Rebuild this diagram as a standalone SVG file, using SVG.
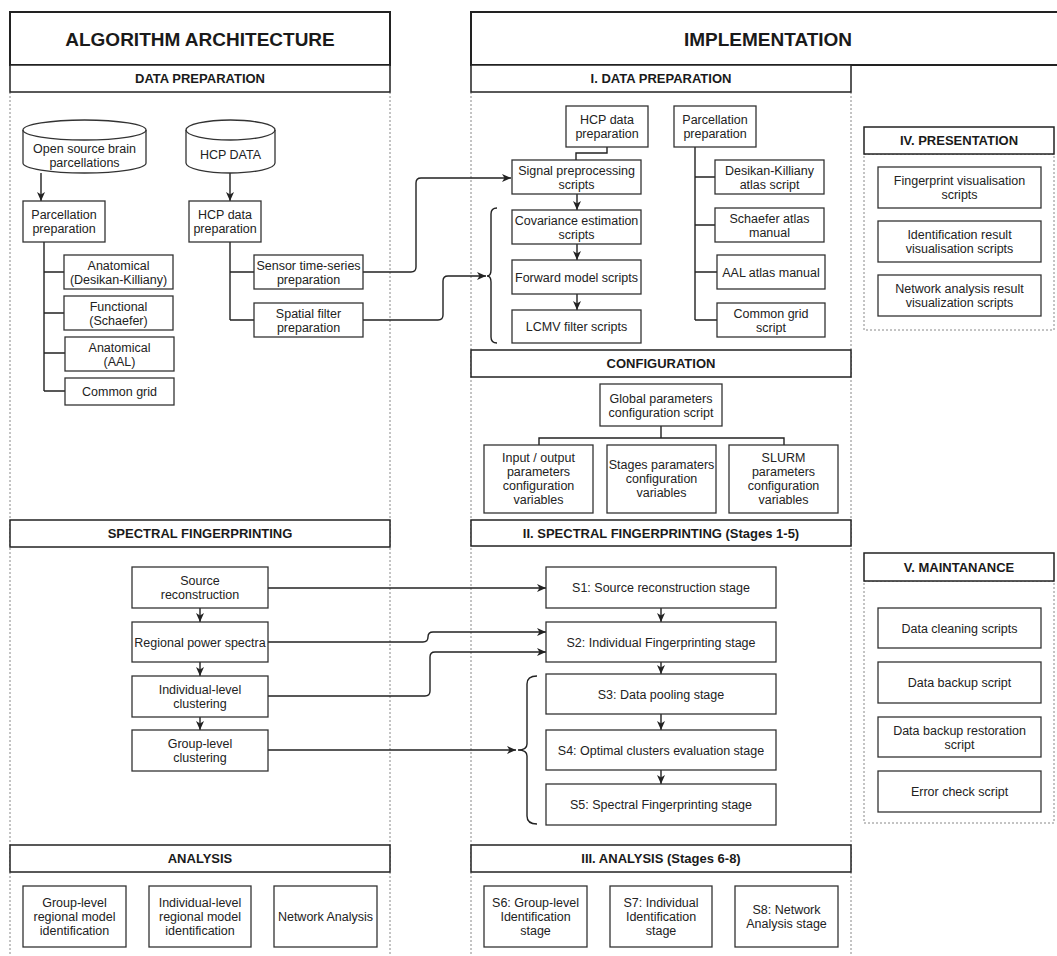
<svg xmlns="http://www.w3.org/2000/svg" width="1057" height="956" viewBox="0 0 1057 956">
<style>
.box{fill:#fff;stroke:#333;stroke-width:1.3}
.hdr{fill:#fff;stroke:#222;stroke-width:2}
.sub{fill:#fff;stroke:#222;stroke-width:1.5}
.dot{fill:none;stroke:#888;stroke-width:1;stroke-dasharray:2 2}
.t{font-family:"Liberation Sans",Arial,sans-serif;font-size:12.5px;fill:#222;text-anchor:middle}
.h1{font-family:"Liberation Sans",Arial,sans-serif;font-size:19px;font-weight:bold;fill:#1a1a1a;text-anchor:middle}
.h2{font-family:"Liberation Sans",Arial,sans-serif;font-size:13px;font-weight:bold;fill:#1a1a1a;text-anchor:middle}
.c{fill:none;stroke:#222;stroke-width:1.4}
.ca{fill:none;stroke:#222;stroke-width:1.4;marker-end:url(#arr)}
</style>
<defs>
<marker id="arr" markerUnits="userSpaceOnUse" markerWidth="10" markerHeight="9" refX="9" refY="4" orient="auto">
<path d="M0,0 L9,4 L0,8 L2.5,4 Z" fill="#222"/>
</marker>
</defs>
<rect width="1057" height="956" fill="#fff"/>

<!-- dotted column frames -->
<g id="frames">
<line class="dot" x1="10" y1="92" x2="10" y2="956"/>
<line class="dot" x1="390" y1="92" x2="390" y2="956"/>
<line class="dot" x1="471" y1="92" x2="471" y2="956"/>
<line class="dot" x1="851" y1="92" x2="851" y2="956"/>
<rect class="dot" x="864" y="154" width="190" height="176"/>
<rect class="dot" x="864" y="581" width="190" height="242"/>
</g>

<!-- headers -->
<g id="hdr-algorithm"><rect class="hdr" x="10" y="12" width="380" height="53"/><text class="h1" x="200" y="45.5">ALGORITHM ARCHITECTURE</text></g>
<g id="hdr-implementation"><rect class="hdr" x="471" y="12" width="600" height="53"/><text class="h1" x="768" y="45.5">IMPLEMENTATION</text></g>
<g id="hdr-dataprep"><rect class="sub" x="10" y="65" width="380" height="27"/><text class="h2" x="200" y="83.2">DATA PREPARATION</text></g>
<g id="hdr-i-dataprep"><rect class="sub" x="471" y="65" width="380" height="27"/><text class="h2" x="661" y="83.2">I. DATA PREPARATION</text></g>
<g id="hdr-presentation"><rect class="sub" x="864" y="127" width="190" height="27"/><text class="h2" x="959" y="145.2">IV. PRESENTATION</text></g>
<g id="hdr-configuration"><rect class="sub" x="471" y="350" width="380" height="27"/><text class="h2" x="661" y="368.2">CONFIGURATION</text></g>
<g id="hdr-sf"><rect class="sub" x="10" y="520" width="380" height="27"/><text class="h2" x="200" y="538.2">SPECTRAL FINGERPRINTING</text></g>
<g id="hdr-ii-sf"><rect class="sub" x="471" y="520" width="380" height="26"/><text class="h2" x="661" y="537.7">II. SPECTRAL FINGERPRINTING (Stages 1-5)</text></g>
<g id="hdr-maintenance"><rect class="sub" x="864" y="553" width="190" height="28"/><text class="h2" x="959" y="571.7">V. MAINTANANCE</text></g>
<g id="hdr-analysis"><rect class="sub" x="10" y="845" width="380" height="27"/><text class="h2" x="200" y="863.2">ANALYSIS</text></g>
<g id="hdr-iii-analysis"><rect class="sub" x="471" y="845" width="380" height="27"/><text class="h2" x="661" y="863.2">III. ANALYSIS (Stages 6-8)</text></g>

<!-- connectors -->
<g id="connectors">
<line class="ca" x1="41" y1="173" x2="41" y2="201"/>
<line class="ca" x1="230" y1="173" x2="230" y2="201"/>
<path class="c" d="M44,242 V391 M44,272 H64 M44,313 H64 M44,353 H65 M44,391 H65"/>
<path class="c" d="M230,242 V320 M230,272 H254 M230,320 H254"/>
<path class="ca" d="M363,272 H411 Q416,272 416,267 V183 Q416,178 421,178 H511"/>
<path class="ca" d="M363,320 H438 Q443,320 443,315 V281 Q443,276 448,276 H486"/>
<path class="c" d="M497,208 Q491,208 491,214 V270 Q491,276 487,276 Q491,276 491,282 V337 Q491,343 497,343"/>
<path class="c" d="M607,147 V153 H576 V160"/>
<line class="ca" x1="577" y1="194" x2="577" y2="210"/>
<line class="ca" x1="577" y1="244" x2="577" y2="260"/>
<line class="ca" x1="577" y1="294" x2="577" y2="310"/>
<path class="c" d="M695,147 V320 M695,177 H715 M695,225 H715 M695,272 H717 M695,320 H717"/>
<path class="c" d="M661,426 V438 M539,445 V438 H784 V445"/>
<line class="ca" x1="200" y1="608" x2="200" y2="622"/>
<line class="ca" x1="200" y1="662" x2="200" y2="676"/>
<line class="ca" x1="200" y1="717" x2="200" y2="730"/>
<line class="ca" x1="268" y1="588" x2="546" y2="588"/>
<path class="ca" d="M268,642 H423 Q428,642 428,637 Q428,632 433,632 H546"/>
<path class="ca" d="M268,696 H425 Q430,696 430,691 V657 Q430,652 435,652 H546"/>
<line class="ca" x1="268" y1="750" x2="516" y2="750"/>
<path class="c" d="M537,676 Q527,676 527,684 V744 Q527,750 518,750 Q527,750 527,756 V816 Q527,824 537,824"/>
<line class="ca" x1="661" y1="608" x2="661" y2="622"/>
<line class="ca" x1="661" y1="662" x2="661" y2="674"/>
<line class="ca" x1="661" y1="714" x2="661" y2="730"/>
<line class="ca" x1="661" y1="770" x2="661" y2="784"/>
</g>

<!-- left data preparation -->
<g id="n-open-source">
<path class="box" d="M23,130 A61.5,10 0 0 1 146,130 V163 A61.5,10 0 0 1 23,163 Z"/>
<path class="box" style="fill:none" d="M23,130 A61.5,10 0 0 0 146,130"/>
<text class="t" x="84.5" y="153">Open source brain<tspan x="84.5" y="167">parcellations</tspan></text>
</g>
<g id="n-hcp-data">
<path class="box" d="M186,130 A44.5,10 0 0 1 275,130 V163 A44.5,10 0 0 1 186,163 Z"/>
<path class="box" style="fill:none" d="M186,130 A44.5,10 0 0 0 275,130"/>
<text class="t" x="230.5" y="159">HCP DATA</text>
</g>
<g id="n-parc-prep"><rect class="box" x="23" y="201" width="82" height="41"/><text class="t" x="64" y="219">Parcellation<tspan x="64" y="233">preparation</tspan></text></g>
<g id="n-hcp-prep"><rect class="box" x="189" y="201" width="72" height="41"/><text class="t" x="225" y="219">HCP data<tspan x="225" y="233">preparation</tspan></text></g>
<g id="n-anat-dk"><rect class="box" x="64" y="255" width="109" height="34"/><text class="t" x="118.5" y="270">Anatomical<tspan x="118.5" y="284">(Desikan-Killiany)</tspan></text></g>
<g id="n-func"><rect class="box" x="64" y="296" width="109" height="34"/><text class="t" x="118.5" y="311">Functional<tspan x="118.5" y="325">(Schaefer)</tspan></text></g>
<g id="n-anat-aal"><rect class="box" x="65" y="337" width="109" height="34"/><text class="t" x="119.5" y="352">Anatomical<tspan x="119.5" y="366">(AAL)</tspan></text></g>
<g id="n-common-grid"><rect class="box" x="65" y="378" width="109" height="27"/><text class="t" x="119.5" y="396">Common grid</text></g>
<g id="n-sensor"><rect class="box" x="254" y="255" width="109" height="34"/><text class="t" x="308.5" y="270">Sensor time-series<tspan x="308.5" y="284">preparation</tspan></text></g>
<g id="n-spatial"><rect class="box" x="254" y="303" width="109" height="34"/><text class="t" x="308.5" y="318">Spatial filter<tspan x="308.5" y="332">preparation</tspan></text></g>

<!-- implementation data preparation -->
<g id="n-i-hcp"><rect class="box" x="566" y="106" width="82" height="41"/><text class="t" x="607" y="124">HCP data<tspan x="607" y="138">preparation</tspan></text></g>
<g id="n-i-parc"><rect class="box" x="674" y="106" width="82" height="41"/><text class="t" x="715" y="124">Parcellation<tspan x="715" y="138">preparation</tspan></text></g>
<g id="n-signal"><rect class="box" x="512" y="160" width="129" height="34"/><text class="t" x="576.5" y="175">Signal preprocessing<tspan x="576.5" y="189">scripts</tspan></text></g>
<g id="n-cov"><rect class="box" x="512" y="210" width="129" height="34"/><text class="t" x="576.5" y="225">Covariance estimation<tspan x="576.5" y="239">scripts</tspan></text></g>
<g id="n-fwd"><rect class="box" x="512" y="260" width="129" height="34"/><text class="t" x="576.5" y="281.5">Forward model scripts</text></g>
<g id="n-lcmv"><rect class="box" x="512" y="310" width="129" height="33"/><text class="t" x="576.5" y="331">LCMV filter scripts</text></g>
<g id="n-dk-script"><rect class="box" x="715" y="160" width="109" height="34"/><text class="t" x="769.5" y="175">Desikan-Killiany<tspan x="769.5" y="189">atlas script</tspan></text></g>
<g id="n-schaefer"><rect class="box" x="715" y="208" width="109" height="34"/><text class="t" x="769.5" y="223">Schaefer atlas<tspan x="769.5" y="237">manual</tspan></text></g>
<g id="n-aal-manual"><rect class="box" x="717" y="255" width="108" height="34"/><text class="t" x="771" y="276.5">AAL atlas manual</text></g>
<g id="n-cg-script"><rect class="box" x="717" y="303" width="108" height="34"/><text class="t" x="771" y="318">Common grid<tspan x="771" y="332">script</tspan></text></g>

<!-- configuration -->
<g id="n-global"><rect class="box" x="600" y="384" width="122" height="42"/><text class="t" x="661" y="402.5">Global parameters<tspan x="661" y="416.5">configuration script</tspan></text></g>
<g id="n-io"><rect class="box" x="484" y="445" width="109" height="68"/><text class="t" x="538.5" y="462">Input / output<tspan x="538.5" y="476">parameters</tspan><tspan x="538.5" y="490">configuration</tspan><tspan x="538.5" y="504">variables</tspan></text></g>
<g id="n-stages"><rect class="box" x="607" y="445" width="109" height="68"/><text class="t" x="661.5" y="469">Stages paramaters<tspan x="661.5" y="483">configuration</tspan><tspan x="661.5" y="497">variables</tspan></text></g>
<g id="n-slurm"><rect class="box" x="729" y="445" width="109" height="68"/><text class="t" x="783.5" y="462">SLURM<tspan x="783.5" y="476">parameters</tspan><tspan x="783.5" y="490">configuration</tspan><tspan x="783.5" y="504">variables</tspan></text></g>

<!-- presentation -->
<g id="n-fp-vis"><rect class="box" x="878" y="167" width="163" height="41"/><text class="t" x="959.5" y="185">Fingerprint visualisation<tspan x="959.5" y="199">scripts</tspan></text></g>
<g id="n-id-vis"><rect class="box" x="878" y="221" width="163" height="41"/><text class="t" x="959.5" y="239">Identification result<tspan x="959.5" y="253">visualisation scripts</tspan></text></g>
<g id="n-net-vis"><rect class="box" x="878" y="275" width="163" height="41"/><text class="t" x="959.5" y="293">Network analysis result<tspan x="959.5" y="307">visualization scripts</tspan></text></g>

<!-- left spectral fingerprinting -->
<g id="n-source"><rect class="box" x="132" y="567" width="136" height="41"/><text class="t" x="200" y="585">Source<tspan x="200" y="599">reconstruction</tspan></text></g>
<g id="n-regional"><rect class="box" x="132" y="622" width="136" height="40"/><text class="t" x="200" y="646.5">Regional power spectra</text></g>
<g id="n-indiv"><rect class="box" x="132" y="676" width="136" height="41"/><text class="t" x="200" y="694">Individual-level<tspan x="200" y="708">clustering</tspan></text></g>
<g id="n-group"><rect class="box" x="132" y="730" width="136" height="41"/><text class="t" x="200" y="748">Group-level<tspan x="200" y="762">clustering</tspan></text></g>

<!-- stages 1-5 -->
<g id="n-s1"><rect class="box" x="546" y="567" width="230" height="41"/><text class="t" x="661" y="592">S1: Source reconstruction stage</text></g>
<g id="n-s2"><rect class="box" x="546" y="622" width="230" height="40"/><text class="t" x="661" y="646.5">S2: Individual Fingerprinting stage</text></g>
<g id="n-s3"><rect class="box" x="546" y="674" width="230" height="40"/><text class="t" x="661" y="698.5">S3: Data pooling stage</text></g>
<g id="n-s4"><rect class="box" x="546" y="730" width="230" height="40"/><text class="t" x="661" y="754.5">S4: Optimal clusters evaluation stage</text></g>
<g id="n-s5"><rect class="box" x="546" y="784" width="230" height="41"/><text class="t" x="661" y="809">S5: Spectral Fingerprinting stage</text></g>

<!-- maintenance -->
<g id="n-clean"><rect class="box" x="878" y="608" width="163" height="40"/><text class="t" x="959.5" y="632.5">Data cleaning scripts</text></g>
<g id="n-backup"><rect class="box" x="878" y="662" width="163" height="41"/><text class="t" x="959.5" y="687">Data backup script</text></g>
<g id="n-restore"><rect class="box" x="878" y="717" width="163" height="40"/><text class="t" x="959.5" y="734.5">Data backup restoration<tspan x="959.5" y="748.5">script</tspan></text></g>
<g id="n-error"><rect class="box" x="878" y="771" width="163" height="41"/><text class="t" x="959.5" y="796">Error check script</text></g>

<!-- analysis -->
<g id="n-group-id"><rect class="box" x="23" y="886" width="103" height="61"/><text class="t" x="74.5" y="907">Group-level<tspan x="74.5" y="921">regional model</tspan><tspan x="74.5" y="935">identification</tspan></text></g>
<g id="n-indiv-id"><rect class="box" x="149" y="886" width="102" height="61"/><text class="t" x="200" y="907">Individual-level<tspan x="200" y="921">regional model</tspan><tspan x="200" y="935">identification</tspan></text></g>
<g id="n-network"><rect class="box" x="274" y="886" width="103" height="61"/><text class="t" x="325.5" y="921">Network Analysis</text></g>
<g id="n-s6"><rect class="box" x="484" y="886" width="103" height="61"/><text class="t" x="535.5" y="907">S6: Group-level<tspan x="535.5" y="921">Identification</tspan><tspan x="535.5" y="935">stage</tspan></text></g>
<g id="n-s7"><rect class="box" x="610" y="886" width="102" height="61"/><text class="t" x="661" y="907">S7: Individual<tspan x="661" y="921">Identification</tspan><tspan x="661" y="935">stage</tspan></text></g>
<g id="n-s8"><rect class="box" x="735" y="886" width="103" height="61"/><text class="t" x="786.5" y="914">S8: Network<tspan x="786.5" y="928">Analysis stage</tspan></text></g>
</svg>
